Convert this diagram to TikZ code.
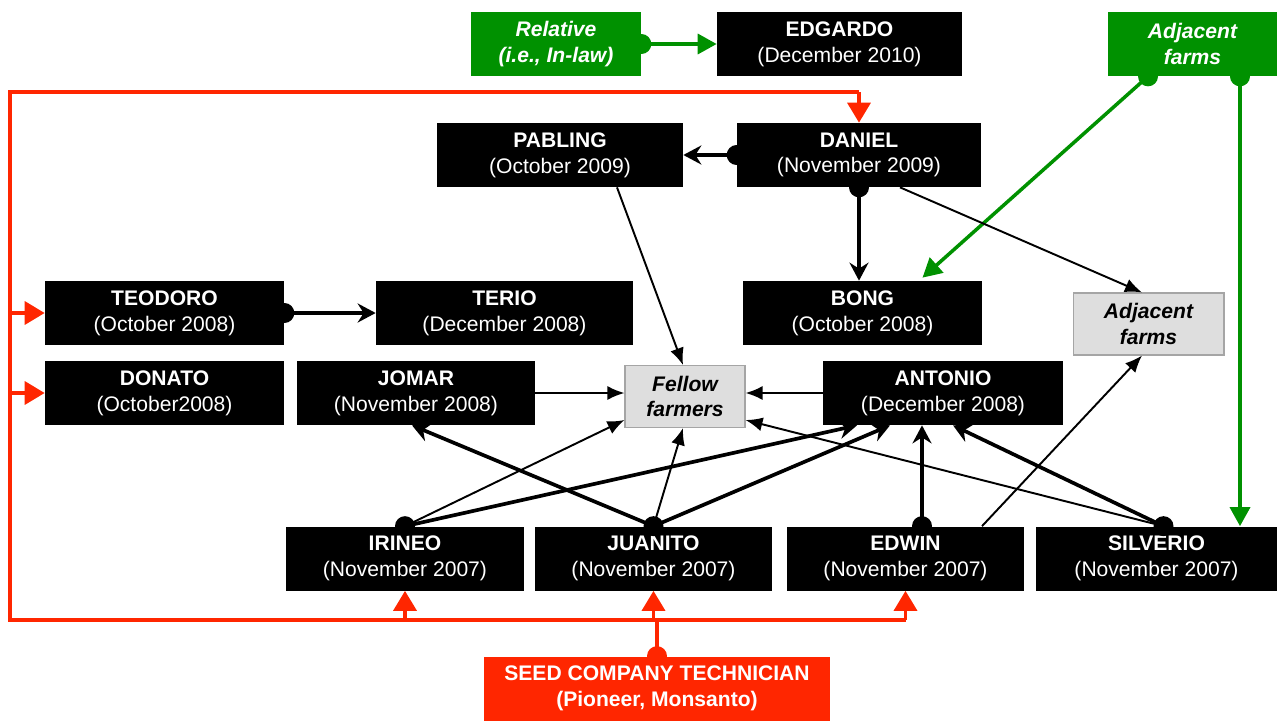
\documentclass[tikz,border=0pt]{standalone}
\usepackage{fontspec}
\setmainfont{Liberation Sans}
\usetikzlibrary{arrows.meta}
\definecolor{netgreen}{RGB}{0,145,0}
\definecolor{netred}{RGB}{255,38,0}
\definecolor{farmgray}{RGB}{222,222,222}
\definecolor{farmedge}{RGB}{165,165,165}

\begin{document}
\begin{tikzpicture}[x=0.02cm,y=-0.02cm,
  basebox/.style={inner sep=0pt, align=center, minimum height=1.28cm,
    font=\fontsize{12}{14.6}\selectfont},
  person/.style={basebox, fill=black, text=white},
  source/.style={basebox, fill=netgreen, text=white, font=\fontsize{12}{14.6}\selectfont\bfseries\itshape},
  farm/.style={basebox, fill=farmgray, draw=farmedge, line width=0.6pt, text=black,
    minimum height=1.24cm, font=\fontsize{12}{14.6}\selectfont\bfseries\itshape},
  tech/.style={basebox, fill=netred, text=white, font=\fontsize{12}{14.6}\selectfont\bfseries},
  thickarr/.style={line width=2.1pt, -{Stealth[length=0.36cm,width=0.38cm,inset=0.12cm]}},
  thinarr/.style={line width=1.1pt, -{Latex[length=0.34cm,width=0.28cm]}},
  redline/.style={draw=netred, line width=2pt},
  redarr/.style={redline, -{Triangle[length=0.4cm,width=0.46cm]}},
  greenline/.style={draw=netgreen, line width=2pt},
  greenarr/.style={greenline, -{Triangle[length=0.38cm,width=0.4cm]}},
  dotr/.style={radius=0.2cm}
]
\useasboundingbox (0,0) rectangle (1277,720);

% ---- boxes ----
\node[source, minimum width=3.4cm]  (rel)  at (556,44)    {Relative\\(i.e., In-law)};
\node[person, minimum width=4.9cm]  (edg)  at (839.5,44)  {\textbf{EDGARDO}\\(December 2010)};
\node[source, minimum width=3.38cm] (adjG) at (1192.5,44) {Adjacent\\farms};

\node[person, minimum width=4.92cm] (pab)  at (560,155)   {\textbf{PABLING}\\(October 2009)};
\node[person, minimum width=4.88cm] (dan)  at (859,155)   {\textbf{DANIEL}\\(November 2009)};

\node[person, minimum width=4.78cm] (teo)  at (164.5,313) {\textbf{TEODORO}\\(October 2008)};
\node[person, minimum width=5.14cm] (ter)  at (504.5,313) {\textbf{TERIO}\\(December 2008)};
\node[person, minimum width=4.78cm] (bong) at (862.5,313) {\textbf{BONG}\\(October 2008)};
\node[farm,   minimum width=3.02cm] (adjF) at (1148.5,324) {Adjacent\\farms};

\node[person, minimum width=4.78cm] (don)  at (164.5,393) {\textbf{DONATO}\\(October2008)};
\node[person, minimum width=4.76cm] (jom)  at (416,393)   {\textbf{JOMAR}\\(November 2008)};
\node[farm,   minimum width=2.4cm]  (fel)  at (685,396.5) {Fellow\\farmers};
\node[person, minimum width=4.8cm]  (ant)  at (943,393)   {\textbf{ANTONIO}\\(December 2008)};

\node[person, minimum width=4.76cm] (iri)  at (405,558.5)   {\textbf{IRINEO}\\(November 2007)};
\node[person, minimum width=4.74cm] (jua)  at (653.5,558.5) {\textbf{JUANITO}\\(November 2007)};
\node[person, minimum width=4.74cm] (edw)  at (905.5,558.5) {\textbf{EDWIN}\\(November 2007)};
\node[person, minimum width=4.82cm] (sil)  at (1156.5,558.5){\textbf{SILVERIO}\\(November 2007)};

\node[tech, minimum width=6.92cm] (seed) at (657,688.5) {SEED COMPANY TECHNICIAN\\(Pioneer, Monsanto)};

% ---- seed company technician network (red) ----
\coordinate (busL)   at (10,620);
\coordinate (busTop) at (10,92);
\draw[redline] (seed.north) -- (seed.north |- busL);
\draw[redline] (edw.south |- busL) -- (busL) -- (busTop) -- (dan.north |- busTop);
\draw[redarr] (dan.north |- busTop) -- (dan.north);
\draw[redarr] (busL |- teo.west) -- (teo.west);
\draw[redarr] (busL |- don.west) -- (don.west);
\draw[redarr] (iri.south |- busL) -- (iri.south);
\draw[redarr] (jua.south |- busL) -- (jua.south);
\draw[redarr] (edw.south |- busL) -- (edw.south);
\fill[netred] (seed.north) circle[dotr];

% ---- relatives and adjacent farms (green) ----
\coordinate (g1) at ([xshift=-0.89cm]adjG.south);
\coordinate (g2) at ([xshift=0.95cm]adjG.south);
\draw[greenarr] (rel.east) -- (edg.west);
\draw[greenarr] (g1) -- ([xshift=1.2cm,yshift=0.06cm]bong.north);
\draw[greenarr] (g2) -- (g2 |- sil.north);
\fill[netgreen] (rel.east) circle[dotr];
\fill[netgreen] (g1) circle[dotr];
\fill[netgreen] (g2) circle[dotr];

% ---- farmer-to-farmer links (black) ----
\coordinate (edwdot) at ([xshift=0.33cm]edw.north);
\coordinate (sildot) at ([xshift=0.14cm]sil.north);

\draw[thickarr] (dan.west) -- (pab.east);
\draw[thickarr] (dan.south) -- (dan.south |- bong.north);
\draw[thinarr] ([xshift=0.82cm]dan.south) -- ([xshift=-0.13cm]adjF.north);
\draw[thinarr] ([xshift=1.14cm]pab.south) -- ([xshift=-0.04cm]fel.north);
\draw[thickarr] (teo.east) -- (ter.west);
\draw[thinarr] (jom.east) -- (jom.east -| fel.west);
\draw[thinarr] (ant.west) -- (ant.west -| fel.east);

\draw[thinarr] (iri.north) -- ([yshift=0.16cm]fel.south west);
\draw[thickarr] (iri.north) -- ([xshift=-1.72cm]ant.south);
\draw[thickarr] (jua.north) -- ([xshift=-0.08cm]jom.south);
\draw[thinarr] (jua.north) -- ([xshift=-0.04cm]fel.south);
\draw[thickarr] (jua.north) -- ([xshift=-1.06cm]ant.south);
\draw[thickarr] (edwdot) -- (edwdot |- ant.south);
\draw[thinarr] ([xshift=1.53cm]edw.north) -- ([xshift=-0.13cm]adjF.south);
\draw[thickarr] (sildot) -- ([xshift=0.2cm]ant.south);
\draw[thinarr] (sildot) -- ([yshift=0.16cm]fel.south east);

\fill (dan.west) circle[dotr];
\fill (dan.south) circle[dotr];
\fill (teo.east) circle[dotr];
\fill (iri.north) circle[dotr];
\fill (jua.north) circle[dotr];
\fill (edwdot) circle[dotr];
\fill (sildot) circle[dotr];
\end{tikzpicture}
\end{document}
